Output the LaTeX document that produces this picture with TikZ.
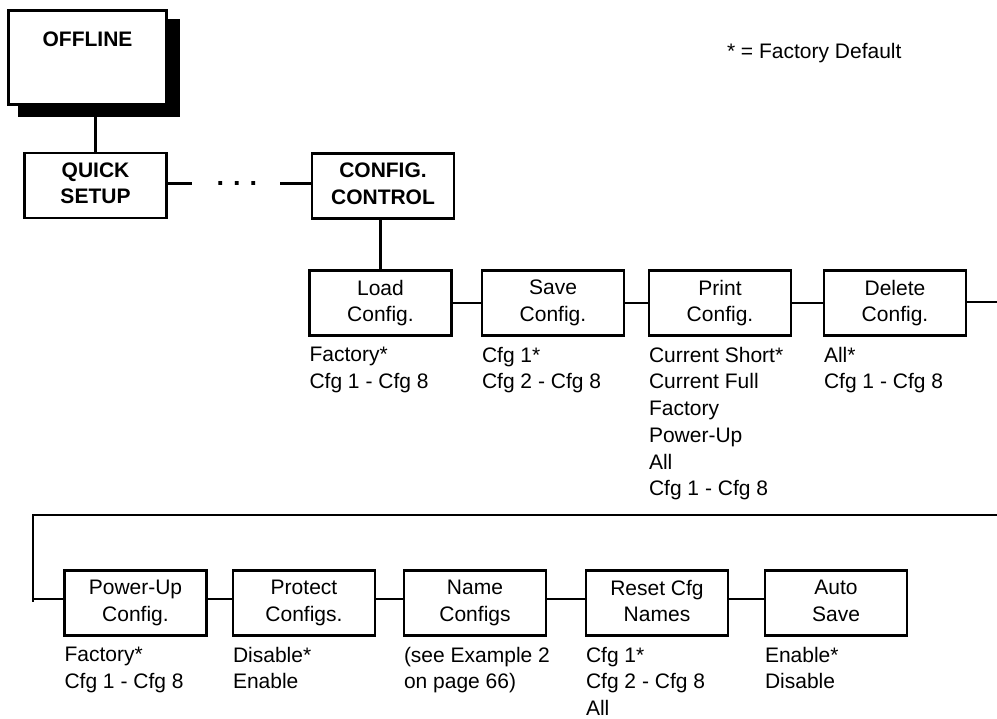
\documentclass[tikz,border=0pt]{standalone}
\usepackage{fontspec}
\setmainfont{Liberation Sans}
\begin{document}
\begin{tikzpicture}[x=1pt,y=-1pt,
  every node/.style={font=\fontsize{21}{26.7}\selectfont, inner sep=0pt, outer sep=0pt},
  box/.style={draw, line width=2.6pt, minimum width=142pt, minimum height=65pt, align=center},
  bbox/.style={box, font=\fontsize{21}{26.7}\selectfont\bfseries},
  lbl/.style={anchor=north west, align=left},
  conn/.style={line width=2.6pt}]
\useasboundingbox (0,0) rectangle (997,719);
% rows of connector heights
\coordinate (r0) at (0,183.5);
\coordinate (l1) at (0,347);
\coordinate (l2) at (0,647);
\coordinate (row2) at (0,599);
% OFFLINE box with shadow
\fill[black] (18,19) rectangle (180,117);
\node[draw, fill=white, line width=2.6pt, minimum width=158.4pt, minimum height=94.4pt] (off) at (87.5,57.5) {};
\node[anchor=base, font=\fontsize{21}{26.7}\selectfont\bfseries] (offt) at (87.5,47) {OFFLINE};
% second level
\node[bbox] (qs) at (95.5,185.5) {QUICK\\SETUP\vphantom{g}};
\node[bbox] (cc) at (383,186) {CONFIG.\\CONTROL\vphantom{g}};
\coordinate (d1) at (192,183.5);
\coordinate (d2) at (280,183.5);
\node[font=\fontsize{27}{30}\selectfont\bfseries] (dots) at (237,183.5) {.\hspace{9pt}.\hspace{9pt}.};
% top row
\node[box] (ld) at (380.5,303) {Load\\Config.\vphantom{g}};
\node[box] (sv) at (553,303) {Save\\Config.\vphantom{g}};
\node[box] (pr) at (720,303) {Print\\Config.\vphantom{g}};
\node[box] (dl) at (895,303) {Delete\\Config.\vphantom{g}};
% bottom row
\node[box] (pu) at (135.5,603) {Power-Up\\Config.\vphantom{g}};
\node[box] (pc) at (304,603) {Protect\\Configs.\vphantom{g}};
\node[box] (nc) at (475,603) {Name\\Configs\vphantom{g}};
\node[box] (rc) at (657,603) {Reset Cfg\\Names\vphantom{g}};
\node[box] (as) at (836,603) {Auto\\Save\vphantom{g}};
% edge coordinates
\coordinate (e1) at (997,302);
\coordinate (e2) at (997,515);
\coordinate (c1) at (33,515);
\coordinate (c2) at (33,602);
% connectors
\draw[conn] (qs.north) -- (qs.north |- off.south);
\draw[conn] (qs.east |- r0) -- (d1);
\draw[conn] (d2) -- (cc.west |- r0);
\draw[conn] (cc.south -| ld.north) -- (ld.north);
\draw[conn] (ld.east) -- (sv.west);
\draw[conn] (sv.east) -- (pr.west);
\draw[conn] (pr.east) -- (dl.west);
\draw[conn] (dl.east |- e1) -- (e1);
\draw[conn] (e2) -- (c1) -- (c2);
\draw[conn] (c1 |- row2) -- (pu.west |- row2);
\draw[conn] (pu.east |- row2) -- (pc.west |- row2);
\draw[conn] (pc.east |- row2) -- (nc.west |- row2);
\draw[conn] (nc.east |- row2) -- (rc.west |- row2);
\draw[conn] (rc.east |- row2) -- (as.west |- row2);
% labels
\node[lbl] (ldl) at (ld.south west |- l1) {Factory*\\Cfg 1 - Cfg 8};
\node[lbl] (svl) at (sv.south west |- l1) {Cfg 1*\\Cfg 2 - Cfg 8};
\node[lbl] (prl) at (pr.south west |- l1) {Current Short*\\Current Full\\Factory\\Power-Up\\All\\Cfg 1 - Cfg 8};
\node[lbl] (dll) at (dl.south west |- l1) {All*\\Cfg 1 - Cfg 8};
\node[lbl] (pul) at (pu.south west |- l2) {Factory*\\Cfg 1 - Cfg 8};
\node[lbl] (pcl) at (pc.south west |- l2) {Disable*\\Enable};
\node[lbl] (ncl) at (nc.south west |- l2) {(see Example 2\\on page 66)};
\node[lbl] (rcl) at (rc.south west |- l2) {Cfg 1*\\Cfg 2 - Cfg 8\\All};
\node[lbl] (asl) at (as.south west |- l2) {Enable*\\Disable};
\node[anchor=base west] (fd) at (727,59) {* = Factory Default};
\end{tikzpicture}
\end{document}
